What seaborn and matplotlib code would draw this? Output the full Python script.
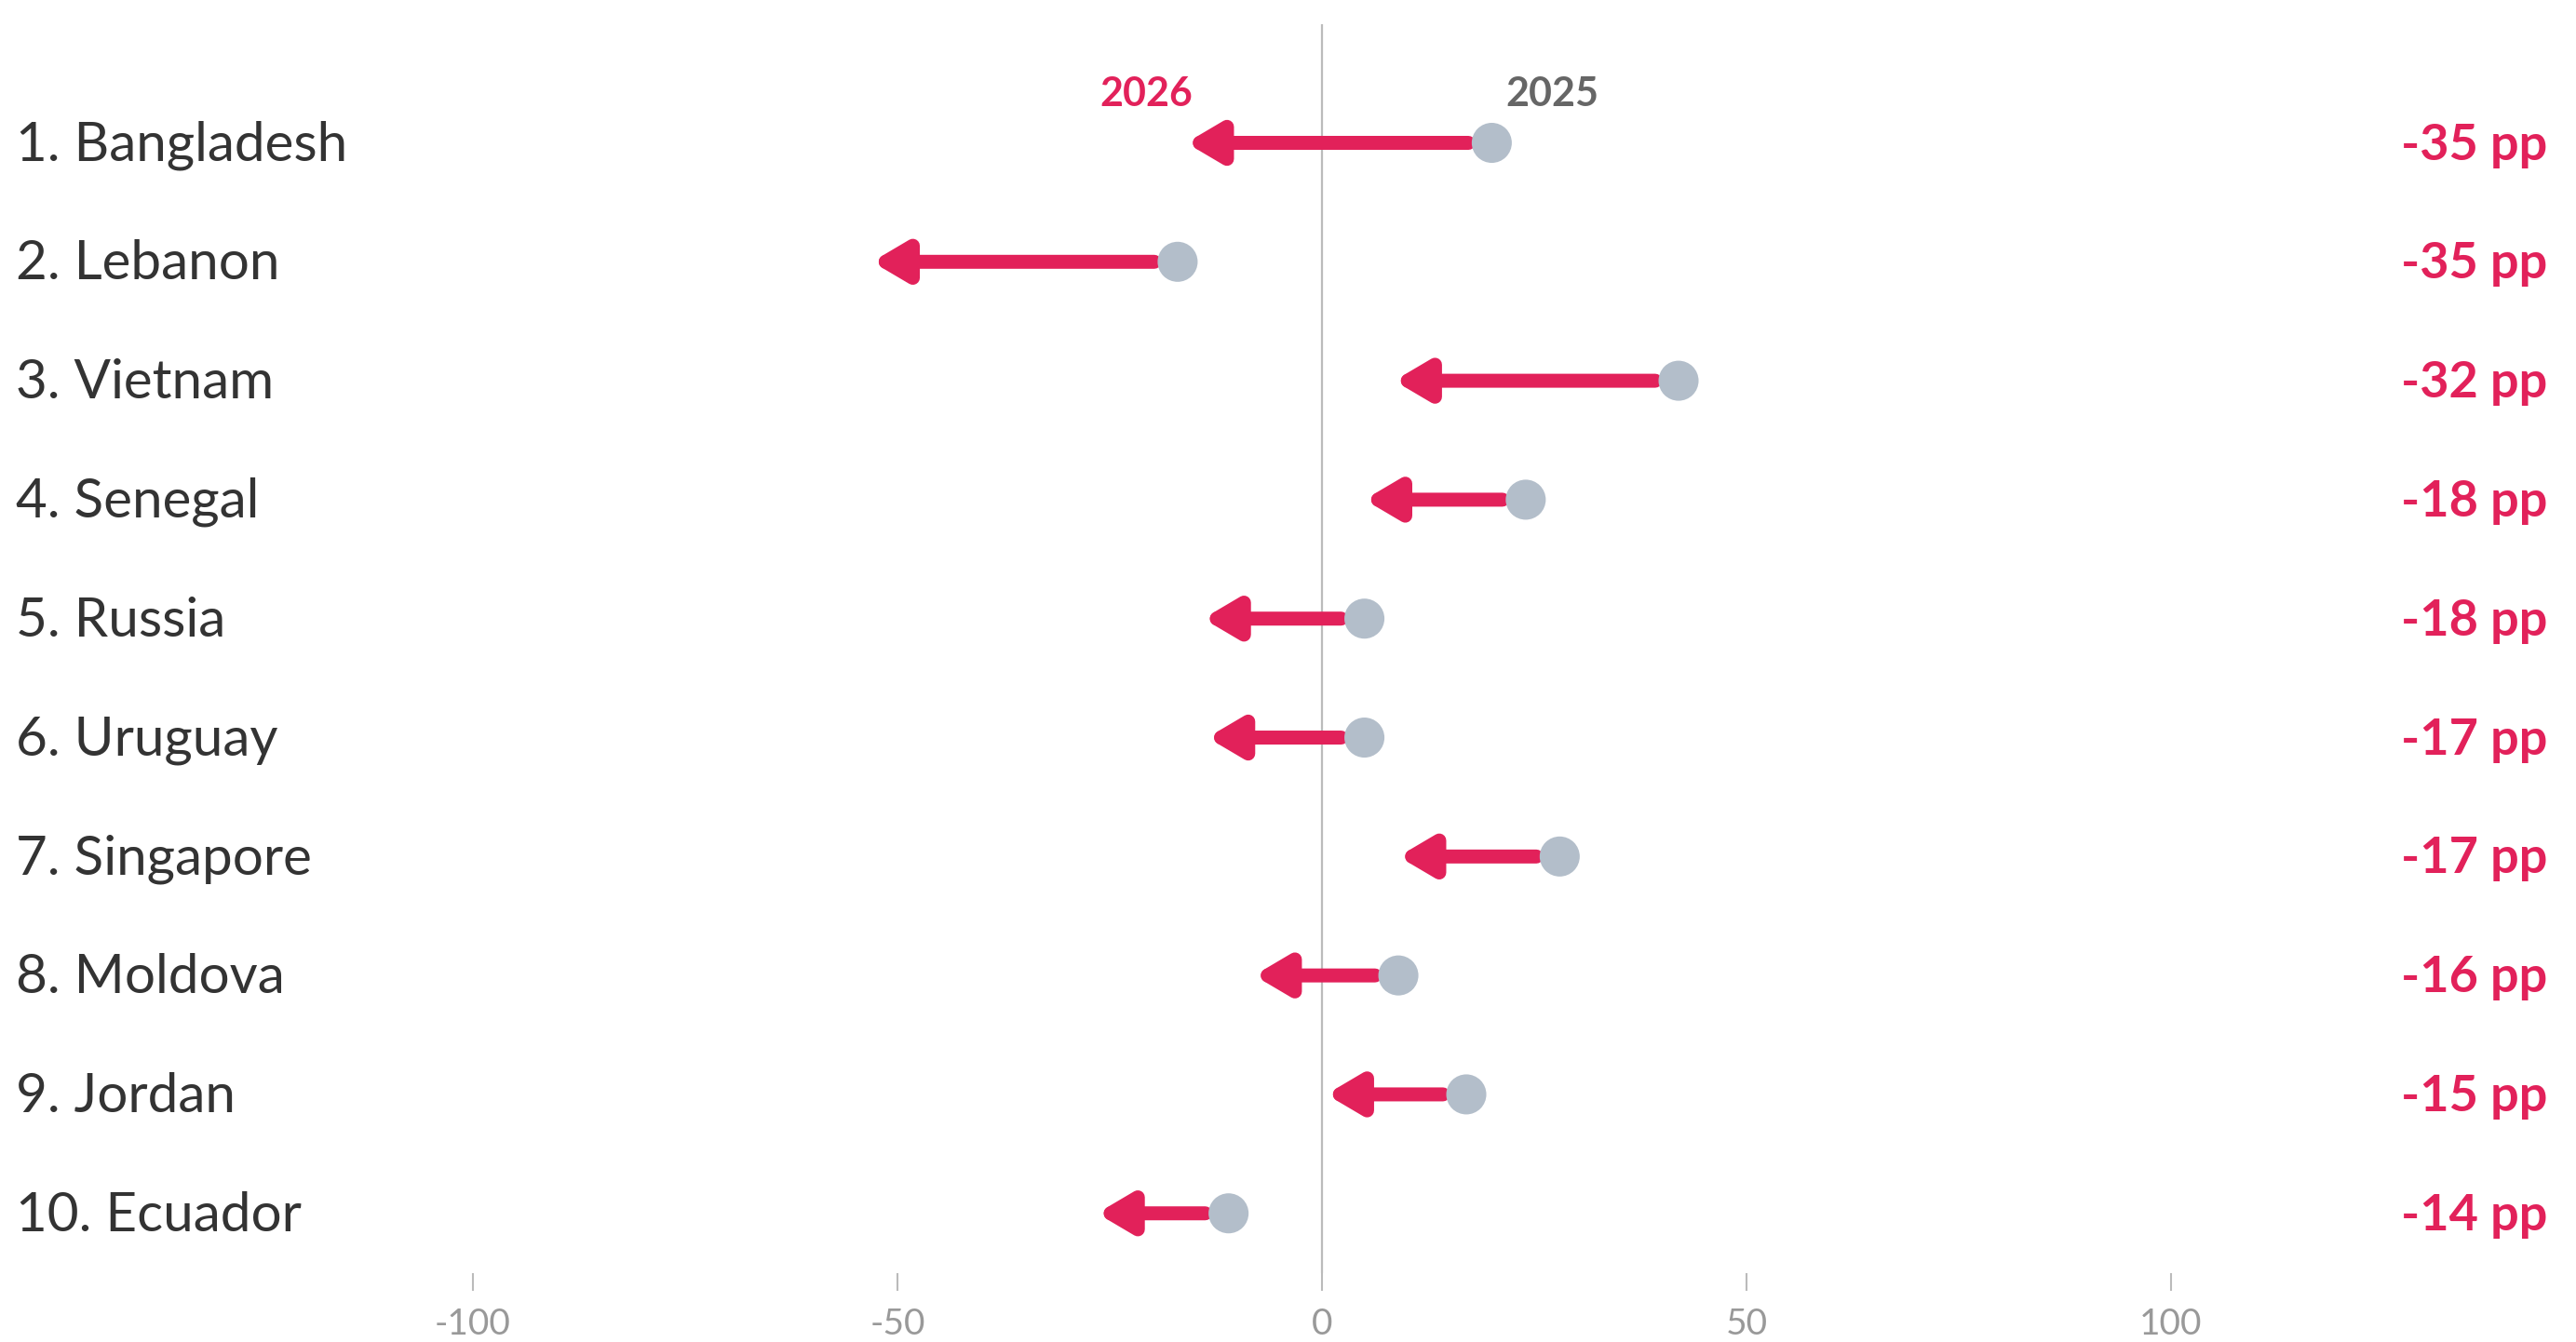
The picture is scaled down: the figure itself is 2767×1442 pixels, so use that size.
import matplotlib
matplotlib.use('Agg')
import matplotlib.pyplot as plt
import seaborn as sns
import pandas as pd

# Data
countries = ['1. Bangladesh', '2. Lebanon', '3. Vietnam', '4. Senegal', '5. Russia',
             '6. Uruguay', '7. Singapore', '8. Moldova', '9. Jordan', '10. Ecuador']
v2025 = [20, -17, 42, 24, 5, 5, 28, 9, 17, -11]
v2026 = [-16, -53, 8.5, 5, -14, -13.5, 9, -8, 0.5, -26.5]
change_labels = ['-35 pp', '-35 pp', '-32 pp', '-18 pp', '-18 pp',
                 '-17 pp', '-17 pp', '-16 pp', '-15 pp', '-14 pp']
xticks = [-100, -50, 0, 50, 100]
xtick_labels = ['-100', '-50', '0', '50', '100']

red = '#E2215A'
dot_grey = '#B3BECA'
text_dark = '#333333'

df = pd.DataFrame({'country': countries, 'v2025': v2025, 'v2026': v2026,
                   'row': range(len(countries))})

sns.set_theme(style='white')
plt.rcParams['font.family'] = ['Lato', 'DejaVu Sans']

fig = plt.figure(figsize=(27.67, 14.42), dpi=100)
ax = fig.add_axes([0, 0.0513, 1, 0.982 - 0.0513])

# zero reference line
ax.axvline(0, color='#BBBBBB', lw=1.6, zorder=1)

# arrows from 2025 to 2026
for _, r in df.iterrows():
    ax.annotate('', xy=(r['v2026'], r['row']), xytext=(r['v2025'], r['row']),
                arrowprops=dict(arrowstyle='-|>,head_length=1.05,head_width=0.62',
                                color=red, lw=10.8, mutation_scale=20,
                                shrinkA=18, shrinkB=0),
                zorder=2)

# 2025 dots
sns.scatterplot(data=df, x='v2025', y='row', s=960, color=dot_grey,
                edgecolor='none', ax=ax, zorder=3, legend=False)

# country names and change labels
for _, r in df.iterrows():
    ax.text(0.0062, r['row'] + 0.02, r['country'], transform=ax.get_yaxis_transform(),
            ha='left', va='center', fontsize=42, color=text_dark)
for i, lab in enumerate(change_labels):
    ax.text(0.989, i + 0.02, lab, transform=ax.get_yaxis_transform(),
            ha='right', va='center', fontsize=39, color=red, fontweight='bold')

# series labels above first row
ax.annotate('2026', xy=(v2026[0], 0), xytext=(-31, 38), textcoords='offset points',
            ha='center', va='center', fontsize=31, color=red, fontweight='bold')
ax.annotate('2025', xy=(v2025[0], 0), xytext=(47, 38), textcoords='offset points',
            ha='center', va='center', fontsize=31, color='#666666', fontweight='bold')

ax.set_xlim(-155.7, 147.7)
ax.set_ylim(9.503, -0.998)
ax.set_xticks(xticks)
ax.set_xticklabels(xtick_labels)
ax.set_yticks([])
ax.tick_params(axis='x', direction='out', length=13.5, width=1.5, color='#BBBBBB',
               labelsize=28, labelcolor='#999999', pad=13, bottom=True)
for s in ax.spines.values():
    s.set_visible(False)
ax.set_xlabel('')
ax.set_ylabel('')

fig.savefig('out.png', dpi=100)
